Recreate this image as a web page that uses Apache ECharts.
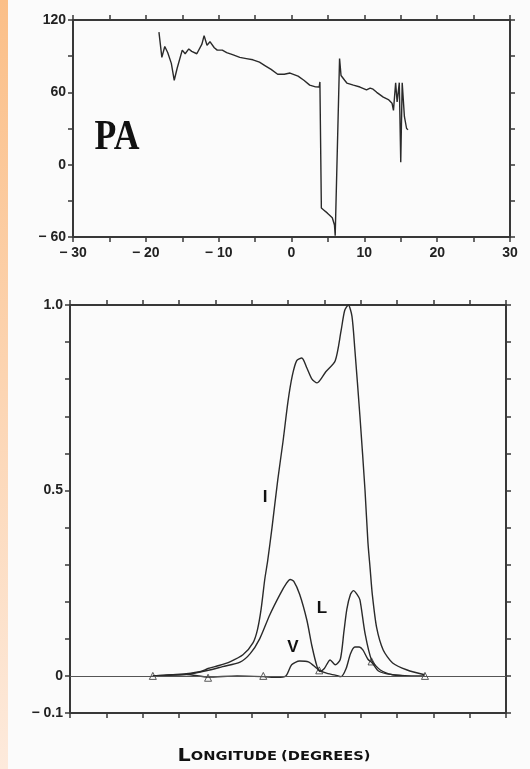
<!DOCTYPE html>
<html>
<head>
<meta charset="utf-8">
<script src="https://cdn.jsdelivr.net/npm/echarts@6/dist/echarts.min.js"></script>
<style>
html,body{margin:0;padding:0;background:#fbfbfb;}
#main{width:530px;height:769px;}
</style>
</head>
<body>
<div id="main"></div>
<script>
// position angle (top panel), [longitude, degrees]
var paPoints = [
    [-18.2,110],[-17.8,89],[-17.4,98],[-17.0,93],[-16.5,84],[-16.1,70],[-15.7,80],[-15.0,95],
    [-14.6,92],[-14.1,96],[-13.7,94],[-13.0,92],[-12.3,100],[-12.0,107],[-11.6,99],[-11.2,102],
    [-10.6,97],[-10.2,95],[-9.5,95],[-8.9,93],[-8.0,91],[-7.1,89],[-6.2,88],[-5.3,87],[-4.4,85],
    [-3.6,82],[-2.8,79],[-1.9,75],[-1.0,75],[-0.2,76],[0.9,73.5],[1.7,70],[2.5,66],[3.3,64.5],
    [3.8,64.4],[3.9,68.6],[4.1,-36],[4.5,-38],[4.9,-40],[5.6,-44],[5.9,-50],[6.0,-59],[6.6,88],
    [6.8,74],[7.3,70],[7.6,67.7],[8.5,66],[9.4,64.4],[10.3,62],[10.8,63.5],[11.2,62.6],[11.7,60],
    [12.6,56],[13.3,54],[13.8,51],[14.0,45],[14.3,68],[14.5,52],[14.8,68],[15.0,2],[15.2,68],
    [15.5,40],[15.8,30],[16.0,29]
];

// total intensity I
var iPoints = [
    [-18.6,0],[-16,0.003],[-14,0.006],[-12,0.012],[-11,0.02],[-9.5,0.028],[-8,0.038],[-6.2,0.057],
    [-4.8,0.09],[-4.2,0.125],[-3.7,0.18],[-3.2,0.26],[-2.8,0.31],[-2.2,0.40],[-1.4,0.53],[-0.7,0.63],
    [0.0,0.74],[0.6,0.81],[1.2,0.85],[1.9,0.857],[2.6,0.83],[3.3,0.80],[4.0,0.79],[5.2,0.82],
    [6.5,0.85],[7.3,0.93],[7.8,0.985],[8.3,1.0],[8.8,0.97],[9.2,0.88],[9.9,0.70],[10.6,0.50],
    [11.0,0.36],[11.3,0.29],[11.6,0.22],[12.2,0.13],[13.1,0.07],[14.4,0.035],[16.4,0.016],[18.8,0.003]
];

// linear polarisation L
var lPoints = [
    [-18.6,0],[-14,0.004],[-11,0.015],[-9,0.025],[-6.6,0.037],[-5.2,0.06],[-3.9,0.10],[-2.5,0.165],
    [-1.1,0.22],[-0.2,0.25],[0.3,0.26],[0.8,0.255],[1.6,0.22],[2.6,0.15],[3.3,0.08],[4.0,0.025],
    [4.4,0.012],[5.0,0.02],[5.8,0.043],[6.5,0.03],[7.2,0.045],[7.7,0.12],[8.1,0.18],[8.6,0.22],
    [9.0,0.23],[9.5,0.22],[9.9,0.205],[10.6,0.115],[11.5,0.043],[12.7,0.016],[14.4,0.003],[16,0]
];

// circular polarisation V
var vPoints = [
    [-18.6,0],[-16,0.003],[-14,0.004],[-11,-0.003],[-7,0],[-3.4,-0.002],[-1.5,-0.004],[-0.3,0],
    [0.5,0.03],[1.6,0.04],[2.8,0.038],[4.0,0.02],[4.6,0.012],[5.5,0.006],[6.5,0.002],[7.3,-0.002],
    [8.0,0.02],[8.6,0.06],[9.2,0.078],[9.8,0.078],[10.3,0.07],[11.0,0.045],[11.6,0.035],
    [12.4,0.014],[13.5,0.006],[15,0.002],[17,0],[18.8,0]
];

// open triangles along V
var vMarks = [[-18.6,0],[-11.0,-0.005],[-3.4,0],[4.3,0.015],[11.5,0.039],[18.85,0]];

var paYLabels = {'120':'120','60':'60','0':'0','-60':'\u2212 60'};
var lonLabels = {'-30':'\u2212 30','-20':'\u2212 20','-10':'\u2212 10','0':'0','10':'10','20':'20','30':'30'};
var intYLabels = {'1':'1.0','0.5':'0.5','0':'0','-0.1':'\u2212 0.1'};

var ink = '#222';
var axisInk = '#383838';
var labelFont = {color: ink, fontFamily: 'Liberation Sans', fontWeight: 'bold', fontSize: 14};

function key(v) {
    return String(Math.round(v * 1000) / 1000);
}

function frameAxis(pos, gridIndex, min, max, interval, labels, isX) {
    var a = {
        type: 'value',
        gridIndex: gridIndex,
        position: pos,
        min: min,
        max: max,
        interval: interval,
        splitLine: {show: false},
        axisLine: {onZero: false, lineStyle: {color: axisInk, width: 2}},
        axisTick: {show: true, inside: false, length: 5, lineStyle: {color: axisInk, width: 1.5}},
        axisLabel: {show: false}
    };
    if (labels) {
        a.axisLabel = Object.assign({
            show: true,
            margin: isX ? 9 : 7,
            showMinLabel: true,
            showMaxLabel: true,
            formatter: function (v) {
                var t = labels[key(v)];
                return t === undefined ? '' : t;
            }
        }, labelFont);
    }
    return a;
}

var dom = document.getElementById('main');
var myChart = echarts.init(dom, null, {renderer: 'canvas'});

var lineStyle = {color: '#2a2a2a', width: 1.4};

option = {
    backgroundColor: '#fbfbfb',
    animation: false,
    grid: [
        {left: 73, top: 20, width: 437, height: 217},
        {left: 70, top: 305, width: 436, height: 408}
    ],
    xAxis: [
        frameAxis('bottom', 0, -30, 30, 5, lonLabels, true),
        frameAxis('top', 0, -30, 30, 5, null, true),
        frameAxis('bottom', 1, -30, 30, 5, null, true),
        frameAxis('top', 1, -30, 30, 5, null, true)
    ],
    yAxis: [
        frameAxis('left', 0, -60, 120, 30, paYLabels, false),
        frameAxis('right', 0, -60, 120, 30, null, false),
        frameAxis('left', 1, -0.1, 1.0, 0.1, intYLabels, false),
        frameAxis('right', 1, -0.1, 1.0, 0.1, null, false)
    ],
    series: [
        {
            name: 'PA', type: 'line', xAxisIndex: 0, yAxisIndex: 0,
            data: paPoints, showSymbol: false, lineStyle: lineStyle
        },
        {
            name: 'I', type: 'line', xAxisIndex: 2, yAxisIndex: 2,
            data: iPoints, showSymbol: false, smooth: 0.25, lineStyle: lineStyle
        },
        {
            name: 'L', type: 'line', xAxisIndex: 2, yAxisIndex: 2,
            data: lPoints, showSymbol: false, smooth: 0.25, lineStyle: lineStyle
        },
        {
            name: 'V', type: 'line', xAxisIndex: 2, yAxisIndex: 2,
            data: vPoints, showSymbol: false, smooth: 0.25, lineStyle: lineStyle,
            markLine: {
                silent: true,
                symbol: 'none',
                label: {show: false},
                lineStyle: {color: '#555', width: 1, type: 'solid'},
                data: [{yAxis: 0}]
            }
        },
        {
            name: 'marks', type: 'scatter', xAxisIndex: 2, yAxisIndex: 2,
            data: vMarks, symbol: 'triangle', symbolSize: 7,
            itemStyle: {color: '#fbfbfb', borderColor: '#333', borderWidth: 1}
        }
    ],
    graphic: [
        {
            type: 'rect', left: 0, top: 0, z: 10,
            shape: {width: 8, height: 769},
            style: {
                fill: new echarts.graphic.LinearGradient(0, 0, 0, 1, [
                    {offset: 0, color: '#fbbf88'},
                    {offset: 1, color: '#fdeadc'}
                ])
            }
        },
        {
            type: 'text', x: 117, y: 138, scaleX: 0.85, z: 10,
            style: {text: 'PA', font: 'bold 42px "Liberation Serif"', fill: '#111',
                    textAlign: 'center', textVerticalAlign: 'middle'}
        },
        {
            type: 'text', x: 265, y: 497, z: 10,
            style: {text: 'I', font: 'bold 17px "Liberation Sans"', fill: '#111',
                    textAlign: 'center', textVerticalAlign: 'middle'}
        },
        {
            type: 'text', x: 322, y: 608, z: 10,
            style: {text: 'L', font: 'bold 17px "Liberation Sans"', fill: '#111',
                    textAlign: 'center', textVerticalAlign: 'middle'}
        },
        {
            type: 'text', x: 293, y: 647, z: 10,
            style: {text: 'V', font: 'bold 17px "Liberation Sans"', fill: '#111',
                    textAlign: 'center', textVerticalAlign: 'middle'}
        },
        {
            type: 'text', x: 274, y: 757, scaleX: 1.22, z: 10,
            style: {
                text: '{big|L}{small|ONGITUDE} {small|(DEGREES)}',
                textAlign: 'center', textVerticalAlign: 'middle',
                rich: {
                    big: {fontFamily: 'DejaVu Sans', fontWeight: 'bold', fontSize: 17, fill: '#111', color: '#111'},
                    small: {fontFamily: 'DejaVu Sans', fontWeight: 'bold', fontSize: 12, fill: '#111', color: '#111'}
                }
            }
        }
    ]
};

if (option && typeof option === "object") {
    myChart.setOption(option, true);
}
</script>
</body>
</html>
